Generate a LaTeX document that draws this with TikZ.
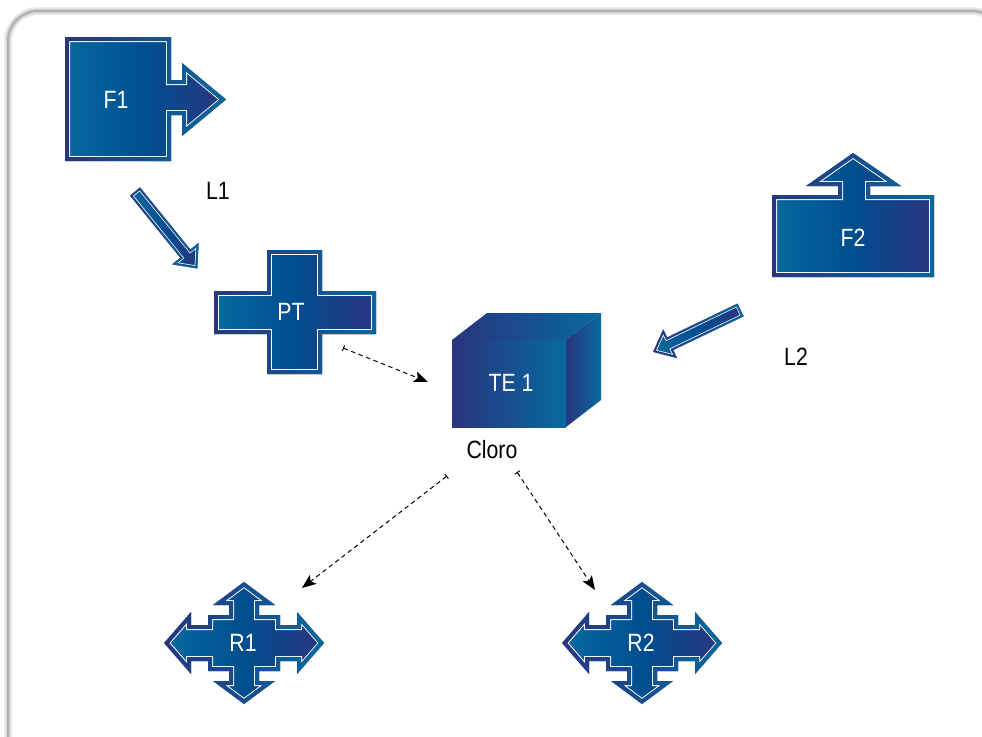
\documentclass[tikz,border=0pt]{standalone}
\usepackage{fontspec}
\newfontfamily\labfont{Liberation Sans}[FakeStretch=0.85]
\usetikzlibrary{arrows.meta,fadings}
\definecolor{cT}{RGB}{6,106,158}
\definecolor{cM}{RGB}{0,78,142}
\definecolor{cN}{RGB}{42,52,128}
\tikzfading[name=fadeR, left color=transparent!100, right color=transparent!0]
% #1 white width, #2 border width, #3 path
\newcommand\bevel[3]{%
  \begin{scope}
    \clip #3;
    \shade[left color=cT, right color=cN, middle color=cM] #3;
    \draw[white, line width=#1, line join=miter] #3;
    \draw[cN, line width=#2, line join=miter] #3;
    \draw[cT, line width=#2, line join=miter, path fading=fadeR] #3;
  \end{scope}}
\begin{document}
\begin{tikzpicture}[x=1pt,y=-1pt,
  wlab/.style={text=white, font=\labfont\fontsize{25}{27}\selectfont, inner sep=0pt},
  blab/.style={text=black, font=\labfont\fontsize{25}{27}\selectfont, inner sep=0pt},
  conn/.style={line width=1pt, dash pattern=on 4.5pt off 3.5pt,
    {Bar[width=6pt,line width=1pt]}-{Stealth[length=14pt,width=11pt,inset=3pt]}},
  face/.style={left color=cN, right color=cT}]
\useasboundingbox (0,0) rectangle (982,736);
\clip (0,0) rectangle (982,736);
\fill[white] (0,0) rectangle (982,736);
% frame
\draw[black!8, line width=8, rounded corners=30] (8,11) rectangle (1002,775);
\draw[black!18, line width=4.5, rounded corners=30] (8,11) rectangle (1002,775);
\draw[black!30, line width=2, rounded corners=30] (8,11) rectangle (1002,775);

% F1
\bevel{10}{8}{(65,37) -- (171,37) -- (171,80) -- (182,80) -- (182,63) -- (226,99.5) -- (182,136) -- (182,115) -- (171,115) -- (171,161) -- (65,161) -- cycle}
\node[wlab] (F1) at (116,100) {F1};

% F2
\bevel{10}{8}{(772,195) -- (838,195) -- (838,186) -- (806,186) -- (853,153) -- (901,186) -- (870,186) -- (870,195) -- (934,195) -- (934,277) -- (772,277) -- cycle}
\node[wlab] (F2) at (853,238) {F2};

% PT
\bevel{10}{8}{(267,250) -- (322,250) -- (322,291) -- (376,291) -- (376,334) -- (322,334) -- (322,374) -- (267,374) -- (267,334) -- (214,334) -- (214,291) -- (267,291) -- cycle}
\node[wlab] (PT) at (291,312) {PT};

% L1 arrow
\begin{scope}[shift={(135,191.5)}, rotate=-51]
\bevel{5.6}{4}{(0,-6.5) -- (80,-6.5) -- (80,-17) -- (99,0) -- (80,17) -- (80,6.5) -- (0,6.5) -- cycle}
\end{scope}
\node[blab] (L1) at (218,191) {L1};

% L2 arrow
\begin{scope}[shift={(740.5,310)}, rotate=-154.4]
\bevel{5.6}{4}{(0,-7) -- (78,-7) -- (78,-16) -- (97,0) -- (78,16) -- (78,7) -- (0,7) -- cycle}
\end{scope}
\node[blab] (L2) at (796,357) {L2};

% TE 1 cube
\shade[face] (452,340) -- (487,313) -- (601,313) -- (566,340) -- cycle;
\shade[face] (566,340) -- (601,313) -- (601,400) -- (566,427) -- cycle;
\shade[face] (452,340) rectangle (566,427);
\node[wlab] (TE) at (511,383) {TE 1};
\node[blab] (Cloro) at (492,450) {Cloro};

% R1, R2
\foreach \cx in {244, 642}{
\begin{scope}[shift={(\cx,643)}]
\bevel{10}{8}{(0,-61) -- (31,-38) -- (15,-38) -- (15,-28) -- (36,-28) -- (36,-18) -- (53,-18) -- (53,-31) -- (80,0) -- (53,31) -- (53,18) -- (36,18) -- (36,28) -- (15,28) -- (15,38) -- (31,38) -- (0,61) -- (-31,38) -- (-15,38) -- (-15,28) -- (-36,28) -- (-36,18) -- (-53,18) -- (-53,31) -- (-80,0) -- (-53,-31) -- (-53,-18) -- (-36,-18) -- (-36,-28) -- (-15,-28) -- (-15,-38) -- (-31,-38) -- cycle}
\end{scope}}
\node[wlab] (R1) at (243,643) {R1};
\node[wlab] (R2) at (641,643) {R2};

% connectors
\coordinate (pto) at (343,348);
\coordinate (tei) at (428,382);
\coordinate (cla) at (447,476);
\coordinate (ria) at (302,588);
\coordinate (clb) at (517,472);
\coordinate (rib) at (595,590);
\draw[conn] (pto) -- (tei);
\draw[conn] (cla) -- (ria);
\draw[conn] (clb) -- (rib);
\end{tikzpicture}
\end{document}
